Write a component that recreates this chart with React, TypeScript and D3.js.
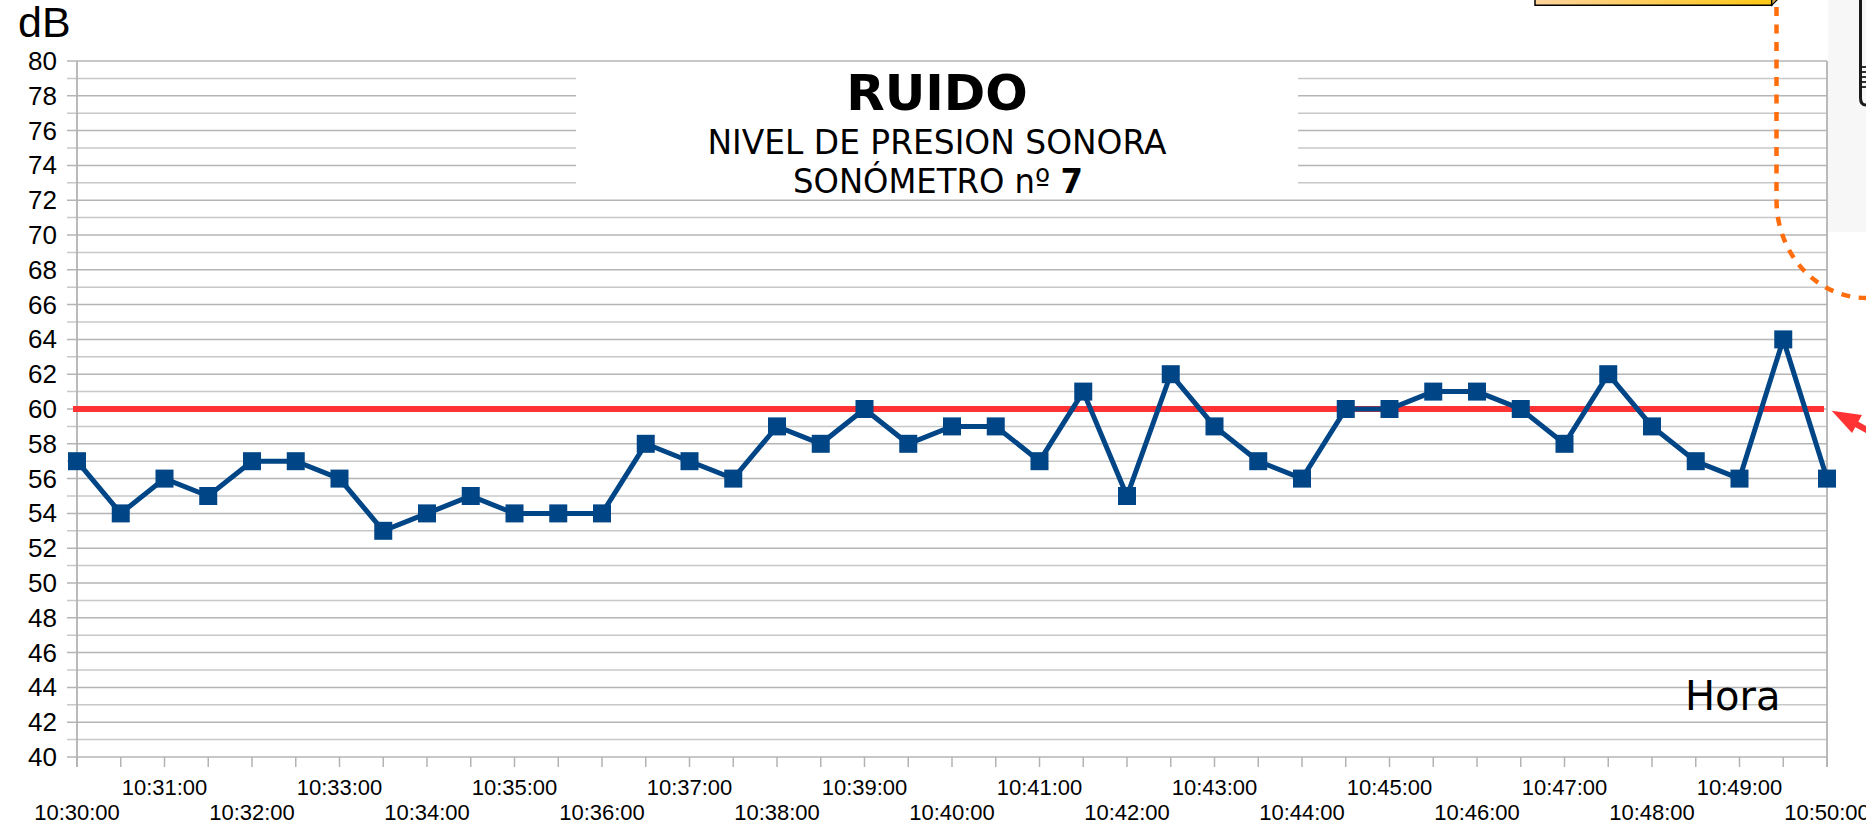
import React from 'react';
import * as d3 from 'd3';

const times = [
  '10:30:00', '10:30:30', '10:31:00', '10:31:30', '10:32:00', '10:32:30', '10:33:00', '10:33:30',
  '10:34:00', '10:34:30', '10:35:00', '10:35:30', '10:36:00', '10:36:30', '10:37:00', '10:37:30',
  '10:38:00', '10:38:30', '10:39:00', '10:39:30', '10:40:00', '10:40:30', '10:41:00', '10:41:30',
  '10:42:00', '10:42:30', '10:43:00', '10:43:30', '10:44:00', '10:44:30', '10:45:00', '10:45:30',
  '10:46:00', '10:46:30', '10:47:00', '10:47:30', '10:48:00', '10:48:30', '10:49:00', '10:49:30',
  '10:50:00',
];
const values = [
  57, 54, 56, 55, 57, 57, 56, 53,
  54, 55, 54, 54, 54, 58, 57, 56,
  59, 58, 60, 58, 59, 59, 57, 61,
  55, 62, 59, 57, 56, 60, 60, 61,
  61, 60, 58, 62, 59, 57, 56, 64,
  56,
];
const xLabels = [
  '10:30:00', '10:31:00', '10:32:00', '10:33:00', '10:34:00', '10:35:00', '10:36:00',
  '10:37:00', '10:38:00', '10:39:00', '10:40:00', '10:41:00', '10:42:00', '10:43:00',
  '10:44:00', '10:45:00', '10:46:00', '10:47:00', '10:48:00', '10:49:00', '10:50:00',
];
const yLabels = [40, 42, 44, 46, 48, 50, 52, 54, 56, 58, 60, 62, 64, 66, 68, 70, 72, 74, 76, 78, 80];
const limitValue = 60;

const W = 1866;
const H = 832;
const PL = 77;
const PR = 1827;
const PT = 61;
const PB = 757;

const sans = "'Liberation Sans', Arial, sans-serif";
const deja = "'DejaVu Sans', Verdana, sans-serif";

export default function App() {
  const parse = d3.timeParse('%H:%M:%S');
  const x = d3.scaleTime().domain([parse('10:30:00')!, parse('10:50:00')!]).range([PL, PR]);
  const y = d3.scaleLinear().domain([40, 80]).range([PB, PT]);
  const gridVals = d3.range(40, 81, 1);
  const tickTimes = x.ticks(d3.timeSecond.every(30)!);
  const pts = times.map((t, i) => [x(parse(t)!), y(values[i])] as [number, number]);
  const line = d3.line()(pts) || '';

  return (
    <svg width={W} height={H} style={{ position: 'absolute', left: 0, top: 0, background: '#fff' }}>
      <defs>
        <linearGradient id="og" x1="0" x2="1" y1="0" y2="0">
          <stop offset="0" stopColor="#fdd29c" />
          <stop offset="1" stopColor="#ffc814" />
        </linearGradient>
      </defs>
      <rect x={0} y={0} width={W} height={H} fill="#fff" />

      {/* sonometer picture fragment */}
      <rect x={1828} y={0} width={38} height={232} fill="#f7f7f7" />
      <path d="M1860.5,0 V98 Q1860.5,105 1866,105" fill="none" stroke="#1a1a1a" strokeWidth={3} />
      {[67, 72, 77, 82, 87].map((yy) => (
        <line key={yy} x1={1860} x2={1866} y1={yy} y2={yy} stroke="#1a1a1a" strokeWidth={1.8} />
      ))}

      {/* grid */}
      {gridVals.map((v) => (
        <line key={v} x1={PL - 10} x2={PR} y1={y(v)} y2={y(v)} stroke={v % 2 === 0 ? '#b5b5b5' : '#c8c8c8'} strokeWidth={1.5} />
      ))}
      <line x1={PL} x2={PL} y1={PT} y2={PB + 10} stroke="#b3b3b3" strokeWidth={1.8} />
      <line x1={PR} x2={PR} y1={PT} y2={PB + 10} stroke="#b3b3b3" strokeWidth={1.8} />
      {tickTimes.map((t, i) => (
        <line key={i} x1={x(t)} x2={x(t)} y1={PB} y2={PB + 10} stroke="#b3b3b3" strokeWidth={1.5} />
      ))}

      {/* y labels */}
      {yLabels.map((v) => (
        <text key={v} x={57} y={y(v)} textAnchor="end" dominantBaseline="central" fontFamily={sans} fontSize={26} fill="#000">
          {v}
        </text>
      ))}
      <text x={18} y={37} fontFamily={sans} fontSize={43} fill="#000">dB</text>

      {/* x labels */}
      {xLabels.map((l, i) => (
        <text key={l} x={x(parse(l)!)} y={i % 2 === 0 ? 820 : 795} textAnchor="middle" fontFamily={sans} fontSize={22} fill="#000">
          {l}
        </text>
      ))}

      {/* title box */}
      <rect x={576} y={66} width={722} height={128} fill="#fff" />
      <text x={937} y={110} textAnchor="middle" fontFamily={deja} fontWeight="bold" fontSize={50} fill="#000">RUIDO</text>
      <text x={937} y={154} textAnchor="middle" fontFamily={deja} fontSize={34} textLength={459} lengthAdjust="spacingAndGlyphs" fill="#000">NIVEL DE PRESION SONORA</text>
      <text x={938} y={193} textAnchor="middle" fontFamily={deja} fontSize={34} textLength={290} lengthAdjust="spacingAndGlyphs" fill="#000">
        SONÓMETRO nº <tspan fontWeight="bold">7</tspan>
      </text>

      <text x={1685} y={710} fontFamily={deja} fontSize={40} fill="#000">Hora</text>

      {/* limit line */}
      <line x1={73} x2={1824} y1={y(limitValue)} y2={y(limitValue)} stroke="#ff3333" strokeWidth={6} />

      {/* series */}
      <path d={line} fill="none" stroke="#004586" strokeWidth={5} />
      {pts.map(([px, py], i) => (
        <rect key={i} x={px - 9} y={py - 9} width={18} height={18} fill="#004586" />
      ))}

      {/* red arrow */}
      <line x1={1856} y1={424} x2={1885} y2={440} stroke="#ff3333" strokeWidth={6} />
      <polygon points="1831.7,410.7 1862,415 1852,433" fill="#ff3333" />

      {/* orange callout */}
      <polygon points="1535,-3 1771.7,-3 1771.7,5.3 1535,5.3" fill="url(#og)" stroke="#000" strokeWidth={1.5} />
      <polygon points="1771.7,5.3 1778,-1 1778,-3 1771.7,-3" fill="#c9a34a" stroke="#000" strokeWidth={1.2} />
      <path d="M1776.5,7 V200 A 90 98 0 0 0 1866 298 L1885,300" fill="none" stroke="#ff6d0d" strokeWidth={4.5} strokeDasharray="9 8.5" />
    </svg>
  );
}
